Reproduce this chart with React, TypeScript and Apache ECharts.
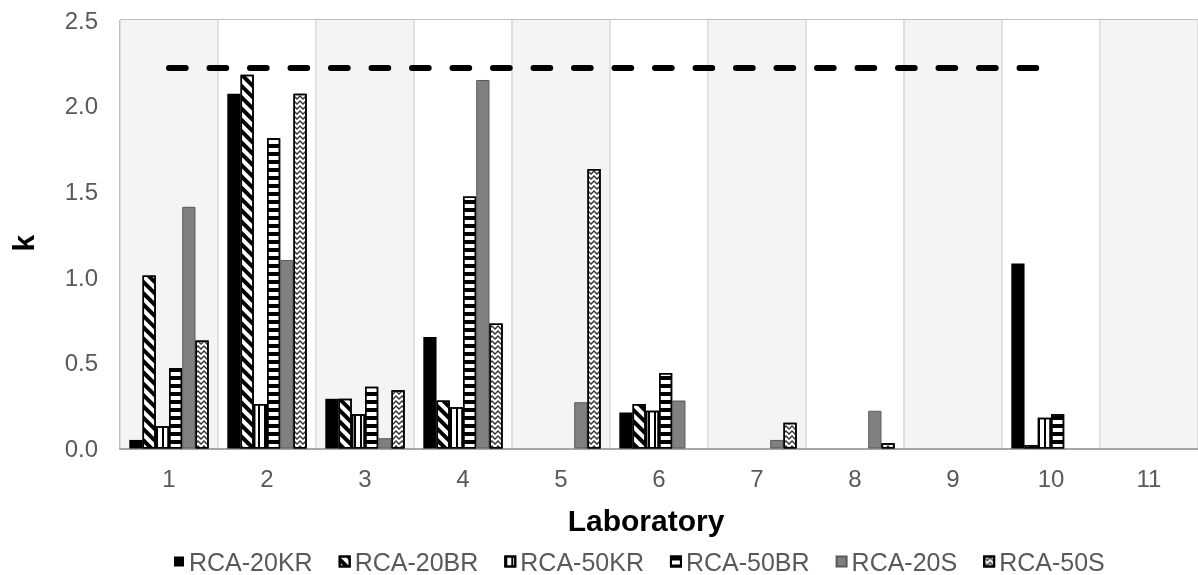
import { useEffect, useRef } from "react";
import * as echarts from "echarts";

// ----- data -----
const labs = ["1", "2", "3", "4", "5", "6", "7", "8", "9", "10", "11"];
const seriesNames = ["RCA-20KR", "RCA-20BR", "RCA-50KR", "RCA-50BR", "RCA-20S", "RCA-50S"];

const rca20KR = [0.05, 2.07, 0.29, 0.65, null, 0.21, null, null, null, 1.08, null];
const rca20BR = [1.01, 2.18, 0.29, 0.28, null, 0.26, null, null, null, 0.02, null];
const rca50KR = [0.13, 0.26, 0.2, 0.24, null, 0.22, null, null, null, 0.18, null];
const rca50BR = [0.47, 1.81, 0.36, 1.47, null, 0.44, null, null, null, 0.2, null];
const rca20S = [1.41, 1.1, 0.06, 2.15, 0.27, 0.28, 0.05, 0.22, null, null, null];
const rca50S = [0.63, 2.07, 0.34, 0.73, 1.63, null, 0.15, 0.03, null, null, null];

// critical k value (dashed line), drawn over labs 1..10
const kLimit = [2.22, 2.22, 2.22, 2.22, 2.22, 2.22, 2.22, 2.22, 2.22, 2.22, null];

const yTicks = { min: 0, max: 2.5, interval: 0.5 };

export default function App() {
    const containerRef = useRef<HTMLDivElement | null>(null);

    useEffect(() => {
        if (!containerRef.current) return;
        const chart = echarts.init(containerRef.current, null, { renderer: "svg" });

        const outline = { borderColor: "#000", borderWidth: 1.5 };
        // bar fills: solid / wide downward diagonal / vertical / horizontal / grey / zigzag
        const styles: any[] = [
            { color: "#000" },
            {
                color: "#fff",
                ...outline,
                decal: {
                    symbol: "rect",
                    symbolSize: 1,
                    dashArrayX: [1, 0],
                    dashArrayY: [3.5, 3.5],
                    rotation: Math.PI / 4,
                    color: "#000",
                },
            },
            {
                color: "#fff",
                ...outline,
                decal: {
                    symbol: "rect",
                    symbolSize: 1,
                    dashArrayX: [2, 3.5],
                    dashArrayY: [1, 0],
                    rotation: 0,
                    color: "#000",
                },
            },
            {
                color: "#fff",
                ...outline,
                decal: {
                    symbol: "rect",
                    symbolSize: 1,
                    dashArrayX: [1, 0],
                    dashArrayY: [3.4, 3.2],
                    rotation: 0,
                    color: "#000",
                },
            },
            { color: "#808080", borderColor: "#595959", borderWidth: 1 },
            {
                color: "#fff",
                ...outline,
                decal: {
                    symbol: "path://M0 0 L5 4 L10 0 L10 2.5 L5 6.5 L0 2.5 Z",
                    symbolSize: 1,
                    symbolKeepAspect: false,
                    dashArrayX: [6, 0],
                    dashArrayY: [4.5, 0],
                    rotation: 0,
                    color: "#333",
                },
            },
        ];
        const values = [rca20KR, rca20BR, rca50KR, rca50BR, rca20S, rca50S];

        const option: any = {
            animation: false,
            textStyle: { fontFamily: "'Liberation Sans', Arial, sans-serif" },
            grid: {
                left: 117.7,
                right: -2.8,
                top: 20,
                bottom: 126.5,
                show: true,
                borderColor: "#000",
                borderWidth: 1,
                backgroundColor: "transparent",
            },
            legend: {
                data: seriesNames,
                left: 174,
                top: 549,
                padding: 0,
                icon: "rect",
                itemWidth: 10,
                itemHeight: 10,
                itemGap: 26,
                textStyle: { fontSize: 25, color: "#595959" },
            },
            xAxis: {
                type: "category",
                data: labs,
                axisLine: { lineStyle: { color: "#a6a6a6", width: 2 } },
                axisTick: { show: false },
                axisLabel: { fontSize: 24, color: "#595959", margin: 18 },
                splitLine: { show: true, lineStyle: { color: "#d9d9d9", width: 1.5 } },
                splitArea: { show: true, areaStyle: { color: ["#f4f4f4", "#ffffff"] } },
                name: "Laboratory",
                nameLocation: "middle",
                nameGap: 57,
                nameTextStyle: { fontSize: 30, fontWeight: "bold", color: "#000", padding: [0, 26, 0, 0] },
            },
            yAxis: {
                type: "value",
                ...yTicks,
                axisLine: { show: false },
                axisTick: { show: false },
                axisLabel: {
                    fontSize: 24,
                    color: "#595959",
                    margin: 22,
                    formatter: (v: number) => v.toFixed(1),
                },
                splitLine: { lineStyle: { color: "#d9d9d9", width: 1.5 } },
                name: "k",
                nameLocation: "middle",
                nameRotate: 90,
                nameGap: 82,
                nameTextStyle: { fontSize: 30, fontWeight: "bold", color: "#000", padding: [0, 18, 0, 0] },
            },
            series: [
                ...seriesNames.map((name, i) => ({
                    name,
                    type: "bar",
                    data: values[i],
                    barGap: "0%",
                    barCategoryGap: "19%",
                    itemStyle: styles[i],
                })),
                {
                    name: "limit",
                    type: "line",
                    data: kLimit,
                    symbol: "none",
                    silent: true,
                    z: 10,
                    lineStyle: { color: "#000", width: 6, type: [16.7, 23.8], cap: "round" },
                },
            ],
        };

        chart.setOption(option);

        return () => {
            chart.dispose();
        };
    }, []);

    return (
        <div
            ref={containerRef}
            style={{ position: "fixed", left: 0, top: 0, width: 1198, height: 575 }}
        />
    );
}
